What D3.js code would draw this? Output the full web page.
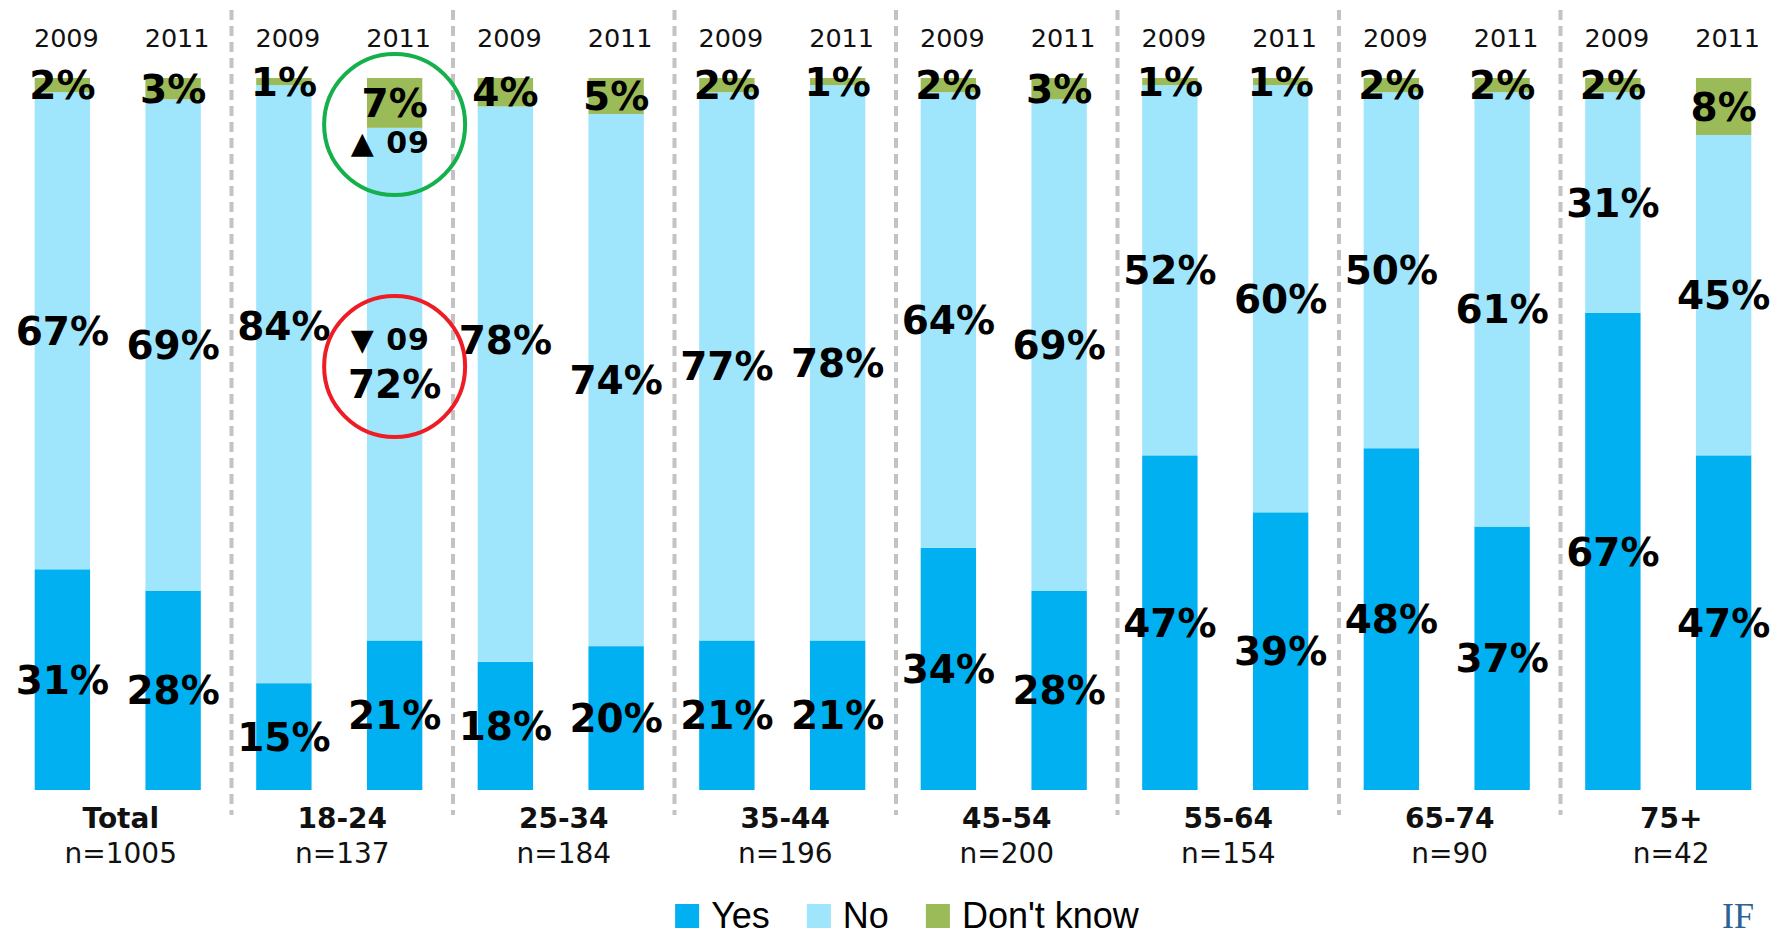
<!DOCTYPE html>
<html>
<head>
<meta charset="utf-8">
<script src="https://cdn.jsdelivr.net/npm/d3@7"></script>
<style>
  html, body { margin: 0; padding: 0; background: #ffffff; }
  svg { display: block; }
</style>
</head>
<body>
<svg id="chart" width="1777" height="937"></svg>
<script>
// Age groups and sample sizes
const groups = ["Total", "18-24", "25-34", "35-44", "45-54", "55-64", "65-74", "75+"];
const sampleSizes = ["n=1005", "n=137", "n=184", "n=196", "n=200", "n=154", "n=90", "n=42"];
const years = ["2009", "2011"];
const answers = ["Yes", "No", "Don't know"];

// Shares (%) per group, in the order of `groups`
const yes2009 = [31, 15, 18, 21, 34, 47, 48, 67];
const no2009  = [67, 84, 78, 77, 64, 52, 50, 31];
const dk2009  = [ 2,  1,  4,  2,  2,  1,  2,  2];
const yes2011 = [28, 21, 20, 21, 28, 39, 37, 47];
const no2011  = [69, 72, 74, 78, 69, 60, 61, 45];
const dk2011  = [ 3,  7,  5,  1,  3,  1,  2,  8];

const colors = { "Yes": "#00b0f0", "No": "#9fe5fc", "Don't know": "#9bbb59" };

// Flat table: one row per bar
const rows = [];
groups.forEach((g, i) => {
  rows.push({ group: g, year: "2009", "Yes": yes2009[i], "No": no2009[i], "Don't know": dk2009[i] });
  rows.push({ group: g, year: "2011", "Yes": yes2011[i], "No": no2011[i], "Don't know": dk2011[i] });
});

const svg = d3.select("#chart");

const x0 = d3.scaleBand().domain(groups).range([7, 1779]).paddingInner(0).paddingOuter(0);
const x1 = d3.scaleBand().domain(years).range([0, x0.bandwidth()]).paddingInner(0.5).paddingOuter(0.25);
const y = d3.scaleLinear().domain([0, 1]).range([790, 78]);

const stack = d3.stack().keys(answers).offset(d3.stackOffsetExpand);
const series = stack(rows);

const barX = d => x0(d.data.group) + x1(d.data.year);

// Dashed separators between groups
svg.append("g").selectAll("line")
  .data(groups.slice(1))
  .join("line")
  .attr("x1", g => x0(g) + 3)
  .attr("x2", g => x0(g) + 3)
  .attr("y1", 10)
  .attr("y2", 815)
  .attr("stroke", "#c3c3c3")
  .attr("stroke-width", 4)
  .attr("stroke-dasharray", "10,6");

// Stacked bars
svg.append("g").selectAll("g")
  .data(series)
  .join("g")
  .attr("fill", s => colors[s.key])
  .selectAll("rect")
  .data(s => s)
  .join("rect")
  .attr("x", barX)
  .attr("y", d => y(d[1]))
  .attr("width", x1.bandwidth())
  .attr("height", d => y(d[0]) - y(d[1]));

// Labels lifted clear of the highlight circle
const labelNudge = { "18-24|2009|No": -58, "25-34|2009|No": -44 };

const labelFont = 39;
const labels = [];
series.forEach(s => {
  s.forEach(d => {
    const key = d.data.group + "|" + d.data.year + "|" + s.key;
    labels.push({
      text: d.data[s.key] + "%",
      cx: barX(d) + x1.bandwidth() / 2,
      cy: (y(d[0]) + y(d[1])) / 2 + (labelNudge[key] || 0)
    });
  });
});

svg.append("g").selectAll("text")
  .data(labels)
  .join("text")
  .attr("x", d => d.cx)
  .attr("y", d => d.cy + labelFont * 0.36)
  .attr("text-anchor", "middle")
  .attr("font-family", "DejaVu Sans, Verdana, sans-serif")
  .attr("font-weight", "bold")
  .attr("font-size", labelFont)
  .attr("fill", "#000")
  .text(d => d.text);

// Year labels above each bar
svg.append("g").selectAll("text")
  .data(rows)
  .join("text")
  .attr("x", d => x0(d.group) + x1(d.year) + x1.bandwidth() / 2 + 4)
  .attr("y", 47)
  .attr("text-anchor", "middle")
  .attr("font-family", "DejaVu Sans, Verdana, sans-serif")
  .attr("font-size", 25.5)
  .attr("fill", "#111")
  .text(d => d.year);

// Group names and sample sizes
const cat = svg.append("g");
cat.selectAll("text.grp")
  .data(groups)
  .join("text")
  .attr("class", "grp")
  .attr("x", g => x0(g) + x0.bandwidth() / 2 + 3)
  .attr("y", 828)
  .attr("text-anchor", "middle")
  .attr("font-family", "DejaVu Sans, Verdana, sans-serif")
  .attr("font-weight", "bold")
  .attr("font-size", 28)
  .attr("fill", "#111")
  .text(g => g);
cat.selectAll("text.n")
  .data(groups)
  .join("text")
  .attr("class", "n")
  .attr("x", g => x0(g) + x0.bandwidth() / 2 + 3)
  .attr("y", 863)
  .attr("text-anchor", "middle")
  .attr("font-family", "DejaVu Sans, Verdana, sans-serif")
  .attr("font-size", 28)
  .attr("fill", "#111")
  .text((g, i) => sampleSizes[i]);

// Change markers versus 2009 for 18-24
const focus = rows.find(r => r.group === "18-24" && r.year === "2011");
const focusX = x0(focus.group) + x1(focus.year) + x1.bandwidth() / 2;
const annotations = [
  { text: "\u25B2 09", color: "#13b04b", cy: 124.5, baseline: 153 },
  { text: "\u25BC 09", color: "#ee1c25", cy: 366.5, baseline: 350 }
];
const ann = svg.append("g");
ann.selectAll("circle")
  .data(annotations)
  .join("circle")
  .attr("cx", focusX)
  .attr("cy", d => d.cy)
  .attr("r", 70.5)
  .attr("fill", "none")
  .attr("stroke", d => d.color)
  .attr("stroke-width", 4);
ann.selectAll("text")
  .data(annotations)
  .join("text")
  .attr("x", focusX - 44)
  .attr("y", d => d.baseline)
  .attr("font-family", "DejaVu Sans, Verdana, sans-serif")
  .attr("font-weight", "bold")
  .attr("font-size", 30)
  .attr("letter-spacing", 1)
  .attr("fill", "#000")
  .text(d => d.text);

// Legend
const legend = svg.append("g");
const legendFont = 36;
let lx = 0;
const items = legend.selectAll("g")
  .data(answers)
  .join("g");
items.append("rect")
  .attr("width", 24)
  .attr("height", 24)
  .attr("y", 904)
  .attr("fill", d => colors[d]);
items.append("text")
  .attr("x", 36)
  .attr("y", 928)
  .attr("font-family", "Liberation Sans, Arial, sans-serif")
  .attr("font-size", legendFont)
  .attr("fill", "#000")
  .text(d => d);
items.each(function () {
  const w = 36 + this.querySelector("text").getComputedTextLength();
  d3.select(this).attr("transform", `translate(${lx},0)`);
  lx += w + 37;
});
const legendWidth = lx - 37;
legend.attr("transform", `translate(${907 - legendWidth / 2},0)`);

// Publisher mark in the corner
svg.append("text")
  .attr("x", 1722)
  .attr("y", 928)
  .attr("font-family", "Liberation Serif, DejaVu Serif, serif")
  .attr("font-size", 36)
  .attr("fill", "#2b6394")
  .text("IF");
</script>
</body>
</html>
